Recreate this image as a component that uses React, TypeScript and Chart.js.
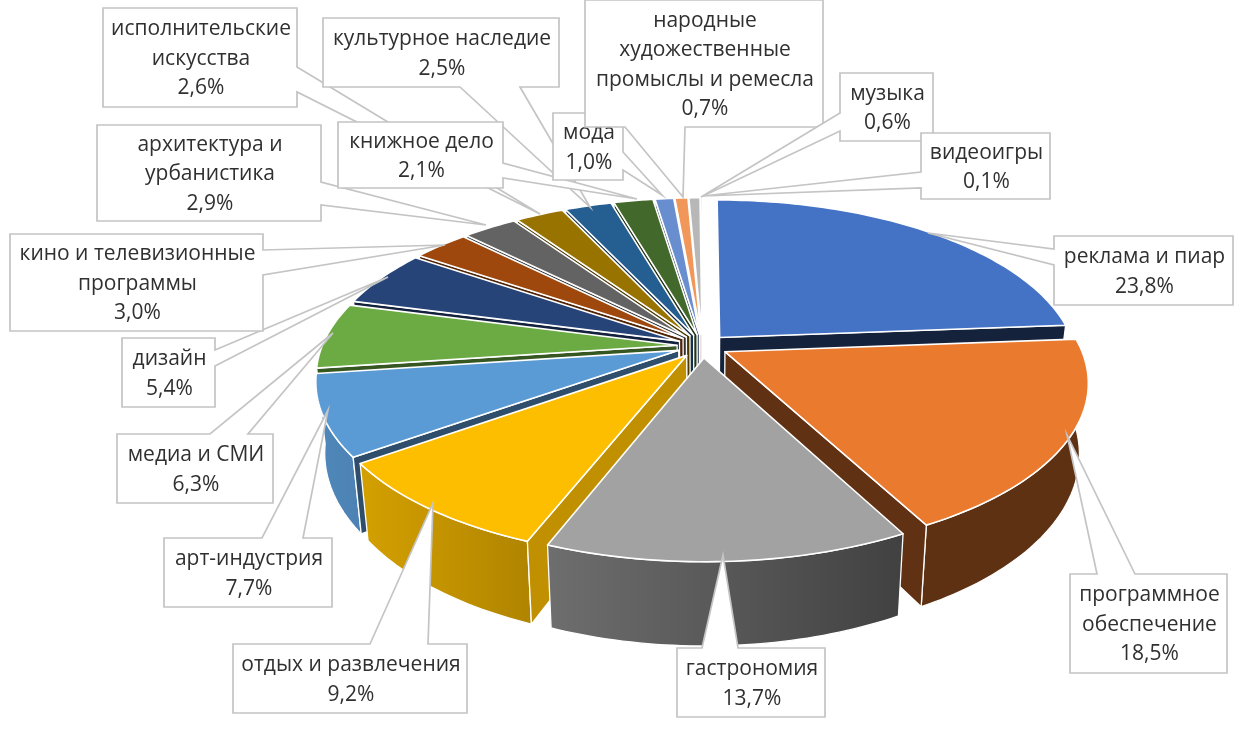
import { useEffect, useRef } from "react";
import { Chart, registerables } from "chart.js";

Chart.register(...registerables);

const categories = [
  "реклама и пиар",
  "программное\nобеспечение",
  "гастрономия",
  "отдых и развлечения",
  "арт-индустрия",
  "медиа и СМИ",
  "дизайн",
  "кино и телевизионные\nпрограммы",
  "архитектура и\nурбанистика",
  "исполнительские\nискусства",
  "культурное наследие",
  "книжное дело",
  "мода",
  "народные\nхудожественные\nпромыслы и ремесла",
  "музыка",
  "видеоигры",
];
const shares = [23.8, 18.5, 13.7, 9.2, 7.7, 6.3, 5.4, 3.0, 2.9, 2.6, 2.5, 2.1, 1.0, 0.7, 0.6, 0.1];
const sliceColors = [
  "#4472C4", "#EA7A2E", "#A2A2A2", "#FDBE00", "#5B9BD5", "#6CAB44", "#264478", "#9E480E",
  "#636363", "#997300", "#255E91", "#43682B", "#698ED0", "#F1975A", "#B7B7B7", "#FFCD33",
];

// Callout layout: [x0, y0, x1, y1], wedge base, wedge tip.
type Callout = { box: number[]; base: number[][]; tip: number[] };
const callouts: Callout[] = [
  { box: [1054, 236, 1233, 305], base: [[1054, 249], [1054, 265]], tip: [928, 233] },
  { box: [1070, 574, 1227, 673], base: [[1097, 574], [1135, 574]], tip: [1067, 435] },
  { box: [677, 648, 825, 717], base: [[702, 648], [738, 648]], tip: [723, 555] },
  { box: [233, 644, 467, 713], base: [[370, 644], [428, 644]], tip: [433, 503] },
  { box: [164, 538, 332, 607], base: [[262, 538], [303, 538]], tip: [328, 410] },
  { box: [117, 434, 273, 503], base: [[210, 434], [248, 434]], tip: [333, 333] },
  { box: [122, 338, 215, 407], base: [[215, 350], [215, 366]], tip: [388, 277] },
  { box: [10, 234, 263, 331], base: [[263, 250], [263, 275]], tip: [445, 245] },
  { box: [97, 125, 321, 221], base: [[321, 182], [321, 205]], tip: [486, 225] },
  { box: [103, 8, 297, 107], base: [[297, 67], [297, 92]], tip: [540, 214] },
  { box: [323, 18, 559, 87], base: [[460, 87], [520, 87]], tip: [590, 207] },
  { box: [338, 122, 503, 188], base: [[503, 163], [503, 178]], tip: [637, 199] },
  { box: [553, 113, 623, 180], base: [[623, 152], [623, 170]], tip: [662, 195] },
  { box: [585, 0, 823, 127], base: [[625, 127], [685, 127]], tip: [683, 197] },
  { box: [840, 73, 933, 141], base: [[840, 113], [840, 131]], tip: [701, 197] },
  { box: [921, 133, 1050, 199], base: [[921, 172], [921, 188]], tip: [703, 196] },
];

const CX = 702.5;
const CY = 346;
const AX = 355;
const BY = 164;
const PERSP = 0.173;
const EXPLODE = 26;

const project = (x: number, y: number) => {
  const s = 1 / (1 - PERSP * y);
  return [CX + AX * x * s, CY + BY * y * s];
};
const lower = (p: number[]) => [CX + 0.977 * (p[0] - CX), CY + (p[1] - CY) * 1.073 + 68.5];

const shade = (hex: string, f: number) => {
  const n = parseInt(hex.slice(1), 16);
  const c = [(n >> 16) & 255, (n >> 8) & 255, n & 255].map((v) => Math.round(v * f));
  return `rgb(${c[0]},${c[1]},${c[2]})`;
};
const rimFactor = (x: number) => Math.min(0.88, Math.max(0.4, 0.84 - 0.00085 * (x - 360)));

const tracePoly = (ctx: CanvasRenderingContext2D, pts: number[][]) => {
  ctx.beginPath();
  pts.forEach((p, i) => (i ? ctx.lineTo(p[0], p[1]) : ctx.moveTo(p[0], p[1])));
  ctx.closePath();
};

const piePlugin = {
  id: "perspectivePie",
  beforeDatasetsDraw(chart: any) {
    const ctx: CanvasRenderingContext2D = chart.ctx;
    const arcs = chart.getDatasetMeta(0).data.map((arc: any, i: number) => {
      const mid = (arc.startAngle + arc.endAngle) / 2;
      const d = arc.options.offset / arc.outerRadius;
      return { i, start: arc.startAngle, end: arc.endAngle, mid, ox: d * Math.cos(mid), oy: d * Math.sin(mid) };
    });
    const order = [...arcs].sort((a: any, b: any) => a.oy - b.oy);
    const TOP = -Math.PI / 2;
    for (const a of order) {
      const color = sliceColors[a.i];
      const at = (t: number) => project(a.ox + Math.cos(t), a.oy + Math.sin(t));
      const apex = project(a.ox, a.oy);
      const steps = Math.max(3, Math.ceil((a.end - a.start) / 0.02));
      const rim: number[][] = [];
      for (let k = 0; k <= steps; k++) rim.push(at(a.start + ((a.end - a.start) * k) / steps));

      ctx.lineJoin = "round";
      ctx.strokeStyle = "#ffffff";
      ctx.lineWidth = 1.3;

      // outer wall
      const frontRim = rim.filter((_, k) => {
        const t = a.start + ((a.end - a.start) * k) / steps;
        return Math.sin(t) > -0.12;
      });
      if (frontRim.length > 1) {
        const pts = [...frontRim, ...frontRim.map(lower).reverse()];
        const xs = pts.map((p) => p[0]);
        const x0 = Math.min(...xs);
        const x1 = Math.max(...xs);
        const g = ctx.createLinearGradient(x0, 0, x1, 0);
        g.addColorStop(0, shade(color, rimFactor(x0)));
        g.addColorStop(1, shade(color, rimFactor(x1)));
        tracePoly(ctx, pts);
        ctx.fillStyle = g;
        ctx.fill();
        ctx.stroke();
      }

      // radial cut face that looks towards the viewer
      const startDeg = ((a.start - TOP) * 180) / Math.PI;
      const endDeg = ((a.end - TOP) * 180) / Math.PI;
      const cut = endDeg < 180 ? rim[rim.length - 1] : startDeg >= 180 ? rim[0] : null;
      if (cut) {
        const f = endDeg < 180 ? (a.i === 0 ? 0.3 : 0.41) : a.i === 3 ? 0.76 : 0.5;
        tracePoly(ctx, [apex, cut, lower(cut), lower(apex)]);
        ctx.fillStyle = shade(color, f);
        ctx.fill();
        ctx.stroke();
      }

      // top face
      tracePoly(ctx, [apex, ...rim]);
      ctx.fillStyle = color;
      ctx.fill();
      ctx.lineWidth = 1.6;
      ctx.stroke();
    }
    return false;
  },
  afterDraw(chart: any) {
    const ctx: CanvasRenderingContext2D = chart.ctx;
    callouts.forEach((c, i) => {
      const [x0, y0, x1, y1] = c.box;
      const [b0, b1] = c.base;
      const pts: number[][] = [[x0, y0]];
      const wedge = [b0, c.tip, b1];
      if (b0[1] === y0 && b1[1] === y0) pts.push(...wedge);
      pts.push([x1, y0]);
      if (b0[0] === x1 && b1[0] === x1) pts.push(...wedge);
      pts.push([x1, y1]);
      if (b0[1] === y1 && b1[1] === y1) pts.push(b1, c.tip, b0);
      pts.push([x0, y1]);
      if (b0[0] === x0 && b1[0] === x0) pts.push(b1, c.tip, b0);
      tracePoly(ctx, pts);
      ctx.fillStyle = "#ffffff";
      ctx.fill();
      ctx.strokeStyle = "#c4c4c4";
      ctx.lineWidth = 1.7;
      ctx.lineJoin = "miter";
      ctx.stroke();

      const lines = [...categories[i].split("\n"), shares[i].toFixed(1).replace(".", ",") + "%"];
      ctx.fillStyle = "#303030";
      ctx.font = '21px "Open Sans"';
      ctx.textAlign = "center";
      ctx.textBaseline = "middle";
      const midY = (y0 + y1) / 2 + 1.5;
      const midX = (x0 + x1) / 2 + 1;
      lines.forEach((t, k) => {
        ctx.fillText(t, midX, midY + (k - (lines.length - 1) / 2) * 29.5);
      });
    });
  },
};

export default function App() {
  const ref = useRef<HTMLCanvasElement>(null);
  useEffect(() => {
    const chart = new Chart(ref.current!, {
      type: "pie",
      data: {
        labels: categories.map((c) => c.replace(/\n/g, " ")),
        datasets: [{ data: shares, backgroundColor: sliceColors, offset: EXPLODE, borderWidth: 0 }],
      },
      options: {
        animation: false,
        responsive: false,
        plugins: { legend: { display: false }, tooltip: { enabled: false } },
      },
      plugins: [piePlugin],
    } as any);
    return () => chart.destroy();
  }, []);
  return (
    <canvas
      ref={ref}
      width={1247}
      height={751}
      style={{ position: "fixed", left: 0, top: 0, background: "#fff", filter: "blur(0.5px)" }}
    />
  );
}
